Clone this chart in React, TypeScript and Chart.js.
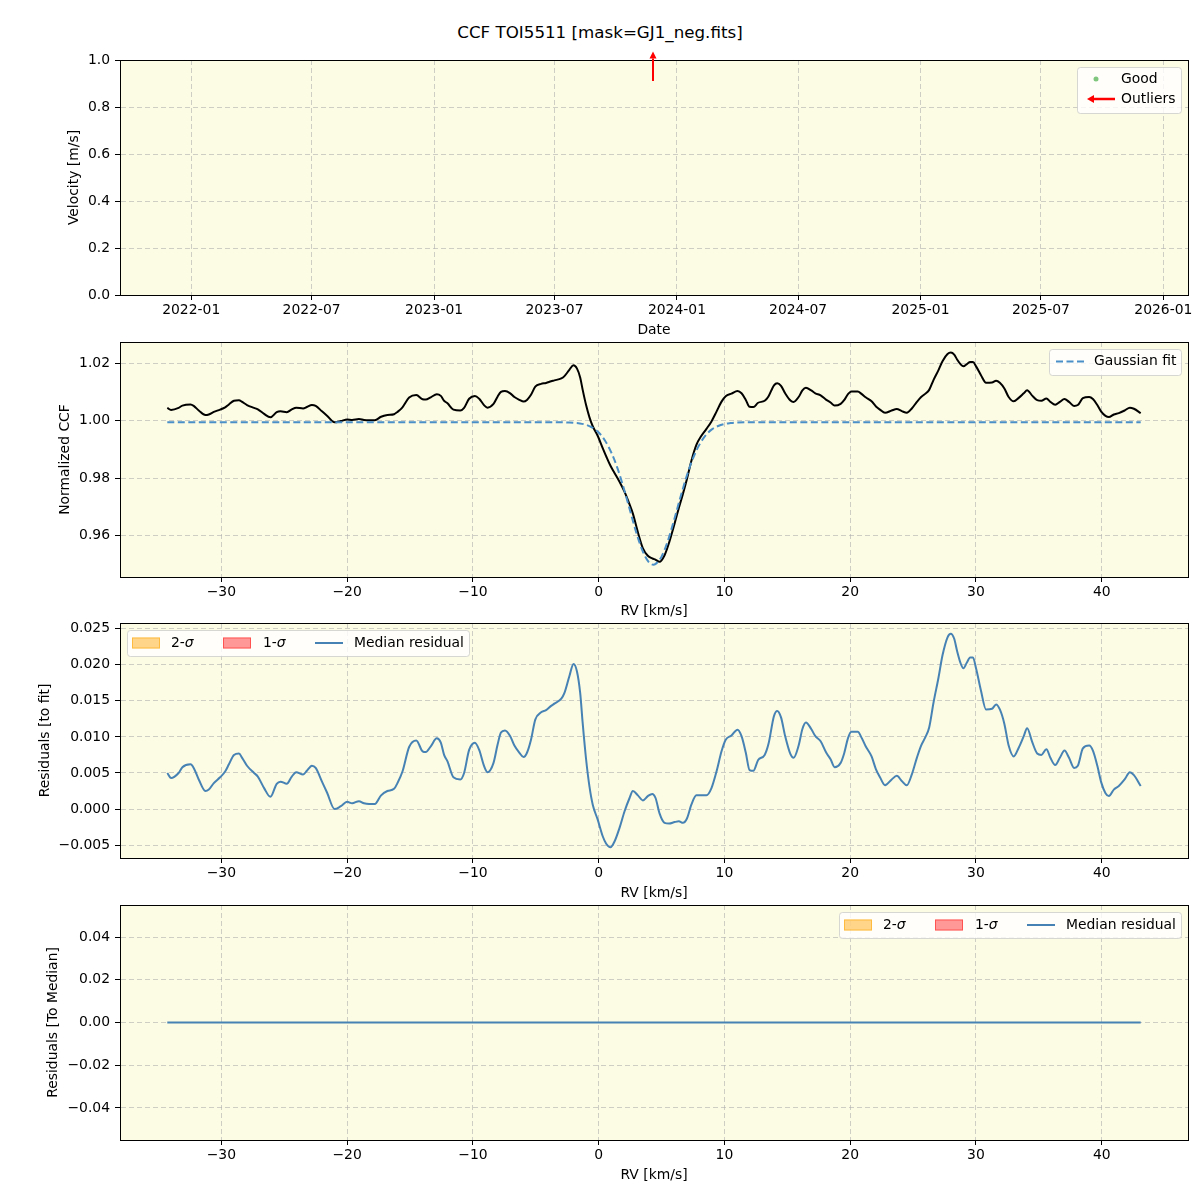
import React, { useEffect, useRef } from 'react';
import { Chart, registerables } from 'chart.js';

Chart.register(...registerables);

// ---------------- data ----------------
const RV = [
  -34.3, -34.0, -33.4, -33.1, -32.45, -32.2, -31.8, -31.27, -31.0, -30.6,
  -30.1, -29.7, -29.4, -29.0, -28.6, -28.35, -27.96, -27.4, -27.1, -26.6,
  -26.1, -25.6, -25.3, -24.8, -24.4, -24.05, -23.5, -23.2, -22.8, -22.5,
  -22.0, -21.6, -21.0, -20.5, -20.0, -19.6, -19.06, -18.66, -18.26, -17.8,
  -17.3, -16.8, -16.27, -16.0, -15.6, -15.07, -14.5, -14.0, -13.75, -13.35,
  -12.87, -12.55, -12.29, -12.02, -11.55, -11.0, -10.7, -10.3, -9.84, -9.5,
  -9.1, -8.84, -8.36, -8.04, -7.77, -7.45, -7.03, -6.7, -6.3, -5.97,
  -5.7, -5.38, -5.04, -4.58, -4.18, -3.78, -3.52, -2.97, -2.72, -2.33,
  -2.0, -1.73, -1.47, -1.27, -1.0, -0.73, -0.47, -0.07, 0.33, 0.6,
  0.94, 1.26, 1.66, 2.06, 2.45, 2.72, 3.12, 3.51, 3.91, 4.26,
  4.53, 4.84, 5.24, 5.6, 6.04, 6.38, 6.7, 7.02, 7.37, 7.77,
  8.17, 8.57, 8.97, 9.37, 9.77, 10.1, 10.56, 11.04, 11.36, 11.7,
  12.0, 12.3, 12.68, 13.2, 13.5, 13.94, 14.2, 14.5, 14.83, 15.25,
  15.5, 15.9, 16.2, 16.48, 16.9, 17.23, 17.65, 18.1, 18.44, 18.76,
  19.24, 19.5, 19.84, 20.1, 20.6, 20.9, 21.23, 21.7, 22.05, 22.37,
  22.77, 23.3, 23.7, 24.1, 24.5, 24.9, 25.3, 25.64, 25.96, 26.28,
  26.63, 27.02, 27.34, 27.74, 28.0, 28.27, 28.5, 28.8, 29.0, 29.28,
  29.54, 29.76, 30.02, 30.4, 30.8, 31.28, 31.6, 31.9, 32.26, 32.6,
  33.0, 33.4, 33.8, 34.07, 34.47, 34.87, 35.2, 35.6, 35.92, 36.3,
  36.67, 37.04, 37.4, 37.8, 38.1, 38.5, 39.0, 39.3, 39.65, 39.96,
  40.3, 40.57, 40.96, 41.36, 41.82, 42.24, 42.56, 43.1,
];

const CCF = [
  1.0045, 1.0038, 1.0045, 1.0053, 1.0057, 1.0052, 1.0036, 1.0020, 1.0022, 1.0031,
  1.0039, 1.0047, 1.0057, 1.0070, 1.0072, 1.0066, 1.0055, 1.0045, 1.0040, 1.0024,
  1.0012, 1.0030, 1.0033, 1.0030, 1.0040, 1.0046, 1.0043, 1.0048, 1.0055, 1.0052,
  1.0033, 1.0018, 0.9995, 0.9999, 1.0005, 1.0003, 1.0006, 1.0003, 1.0002, 1.0002,
  1.0014, 1.0020, 1.0023, 1.0031, 1.0047, 1.0081, 1.0090, 1.0075, 1.0074, 1.0082,
  1.0093, 1.0087, 1.0070, 1.0061, 1.0039, 1.0036, 1.0045, 1.0077, 1.0087, 1.0077,
  1.0054, 1.0046, 1.0059, 1.0084, 1.0101, 1.0104, 1.0096, 1.0083, 1.0073, 1.0067,
  1.0073, 1.0091, 1.0119, 1.0129, 1.0132, 1.0138, 1.0141, 1.0148, 1.0156, 1.0178,
  1.0194, 1.0183, 1.0151, 1.0108, 1.0055, 1.0012, 0.9981, 0.9947, 0.9904, 0.9876,
  0.9843, 0.9818, 0.9787, 0.9752, 0.9709, 0.9676, 0.9611, 0.9556, 0.9529, 0.9520,
  0.9515, 0.9508, 0.9531, 0.9575, 0.9642, 0.9697, 0.9745, 0.9797, 0.9860, 0.9916,
  0.9948, 0.9972, 0.9998, 1.0032, 1.0067, 1.0086, 1.0095, 1.0104, 1.0096, 1.0073,
  1.0049, 1.0048, 1.0063, 1.0070, 1.0085, 1.0124, 1.0131, 1.0122, 1.0096, 1.0071,
  1.0066, 1.0083, 1.0106, 1.0115, 1.0106, 1.0096, 1.0089, 1.0073, 1.0064, 1.0053,
  1.0059, 1.0071, 1.0094, 1.0102, 1.0102, 1.0094, 1.0082, 1.0068, 1.0050, 1.0039,
  1.0028, 1.0036, 1.0041, 1.0034, 1.0028, 1.0043, 1.0066, 1.0083, 1.0094, 1.0108,
  1.0143, 1.0177, 1.0208, 1.0233, 1.0238, 1.0231, 1.0214, 1.0196, 1.0190, 1.0198,
  1.0205, 1.0205, 1.0189, 1.0159, 1.0133, 1.0134, 1.0140, 1.0133, 1.0113, 1.0083,
  1.0068, 1.0080, 1.0096, 1.0107, 1.0088, 1.0072, 1.0070, 1.0078, 1.0066, 1.0056,
  1.0066, 1.0076, 1.0066, 1.0052, 1.0055, 1.0079, 1.0083, 1.0076, 1.0055, 1.0032,
  1.0017, 1.0013, 1.0022, 1.0027, 1.0036, 1.0046, 1.0042, 1.0027,
];

const RESID = [
  0.0050, 0.0043, 0.0050, 0.0058, 0.0062, 0.0057, 0.0041, 0.0025, 0.0027, 0.0036,
  0.0044, 0.0052, 0.0062, 0.0075, 0.0077, 0.0071, 0.0060, 0.0050, 0.0045, 0.0029,
  0.0017, 0.0035, 0.0038, 0.0035, 0.0045, 0.0051, 0.0048, 0.0053, 0.0060, 0.0057,
  0.0038, 0.0023, 0.0000, 0.0004, 0.0010, 0.0008, 0.0011, 0.0008, 0.0007, 0.0007,
  0.0019, 0.0025, 0.0028, 0.0036, 0.0052, 0.0086, 0.0095, 0.0080, 0.0079, 0.0087,
  0.0098, 0.0092, 0.0075, 0.0066, 0.0044, 0.0041, 0.0050, 0.0082, 0.0092, 0.0082,
  0.0059, 0.0051, 0.0064, 0.0089, 0.0106, 0.0109, 0.0101, 0.0088, 0.0078, 0.0072,
  0.0078, 0.0096, 0.0124, 0.0134, 0.0137, 0.0143, 0.0146, 0.0153, 0.0161, 0.0184,
  0.0201, 0.0191, 0.0161, 0.0119, 0.0069, 0.0031, 0.0006, -0.0015, -0.0038, -0.0048,
  -0.0053, -0.0045, -0.0026, -0.0003, 0.0015, 0.0025, 0.0019, 0.0012, 0.0018, 0.0021,
  0.0015, -0.0006, -0.0019, -0.0020, -0.0018, -0.0017, -0.0019, -0.0013, 0.0006, 0.0019,
  0.0019, 0.0019, 0.0029, 0.0052, 0.0080, 0.0096, 0.0102, 0.0110, 0.0101, 0.0078,
  0.0054, 0.0053, 0.0068, 0.0075, 0.0090, 0.0129, 0.0136, 0.0127, 0.0101, 0.0076,
  0.0071, 0.0088, 0.0111, 0.0120, 0.0111, 0.0101, 0.0094, 0.0078, 0.0069, 0.0058,
  0.0064, 0.0076, 0.0099, 0.0107, 0.0107, 0.0099, 0.0087, 0.0073, 0.0055, 0.0044,
  0.0033, 0.0041, 0.0046, 0.0039, 0.0033, 0.0048, 0.0071, 0.0088, 0.0099, 0.0113,
  0.0148, 0.0182, 0.0213, 0.0238, 0.0243, 0.0236, 0.0219, 0.0201, 0.0195, 0.0203,
  0.0210, 0.0210, 0.0194, 0.0164, 0.0138, 0.0139, 0.0145, 0.0138, 0.0118, 0.0088,
  0.0073, 0.0085, 0.0101, 0.0112, 0.0093, 0.0077, 0.0075, 0.0083, 0.0071, 0.0061,
  0.0071, 0.0081, 0.0071, 0.0057, 0.0060, 0.0084, 0.0088, 0.0081, 0.0060, 0.0037,
  0.0022, 0.0018, 0.0027, 0.0032, 0.0041, 0.0051, 0.0047, 0.0032,
];

const FIT_RV = [
  -34.3, -3, -2.5, -2, -1.5, -1, -0.5, 0, 0.5, 1, 1.5, 2, 2.5, 3, 3.5, 4, 4.35,
  4.5, 5, 5.5, 6, 6.5, 7, 7.5, 8, 8.5, 9, 9.5, 10, 10.5, 11, 12, 43.1,
];
const FIT = [
  0.9995, 0.9995, 0.9994, 0.9993, 0.9991, 0.9986, 0.9976, 0.9959, 0.9931, 0.9890, 0.9834,
  0.9764, 0.9686, 0.9609, 0.9545, 0.9506, 0.9498, 0.9500, 0.9526, 0.9581, 0.9654, 0.9733,
  0.9807, 0.9869, 0.9916, 0.9949, 0.9970, 0.9982, 0.9989, 0.9992, 0.9994, 0.9995, 0.9995,
];

const MEDIAN_RV = [-34.3, 43.1];
const MEDIAN_RESID = [0, 0];

const GOOD_DATES: string[] = [];
const GOOD_VELOCITY: number[] = [];
const OUTLIER_DATES = ['2023-11-26'];

const DATE_TICKS = [
  '2022-01-01', '2022-07-01', '2023-01-01', '2023-07-01', '2024-01-01',
  '2024-07-01', '2025-01-01', '2025-07-01', '2026-01-01',
];
const DATE_RANGE = ['2021-09-16', '2026-02-07'];
const VEL_TICKS = [0, 0.2, 0.4, 0.6, 0.8, 1.0];
const VEL_RANGE = [0, 1];

const RV_TICKS = [-30, -20, -10, 0, 10, 20, 30, 40];
const RV_RANGE = [-38.06, 46.86];
const CCF_TICKS = [0.96, 0.98, 1.0, 1.02];
const CCF_RANGE = [0.9455, 1.0275];
const RES_TICKS = [-0.005, 0, 0.005, 0.01, 0.015, 0.02, 0.025];
const RES_RANGE = [-0.00678, 0.02578];
const MED_TICKS = [-0.04, -0.02, 0, 0.02, 0.04];
const MED_RANGE = [-0.055, 0.055];

// ---------------- style ----------------
const FONT_FAMILY = "'DejaVu Sans', sans-serif";
const FS = 13.9;
const BG = '#fcfbe3';
const GRID = 'rgba(176,176,176,0.6)';
const MINUS = '\u2212';
const STEEL = '#4682b4';
const FIT_BLUE = '#4a8fc7';

const fmtNum = (v: number, d: number) => v.toFixed(d).replace('-', MINUS);
const fmtDate = (v: number) => {
  const d = new Date(v);
  return `${d.getUTCFullYear()}-${String(d.getUTCMonth() + 1).padStart(2, '0')}`;
};

function roundRectPath(ctx: CanvasRenderingContext2D, x: number, y: number, w: number, h: number, r: number) {
  ctx.beginPath();
  ctx.moveTo(x + r, y);
  ctx.lineTo(x + w - r, y);
  ctx.arcTo(x + w, y, x + w, y + r, r);
  ctx.lineTo(x + w, y + h - r);
  ctx.arcTo(x + w, y + h, x + w - r, y + h, r);
  ctx.lineTo(x + r, y + h);
  ctx.arcTo(x, y + h, x, y + h - r, r);
  ctx.lineTo(x, y + r);
  ctx.arcTo(x, y, x + r, y, r);
  ctx.closePath();
}

function legendBox(ctx: CanvasRenderingContext2D, x: number, y: number, w: number, h: number) {
  ctx.save();
  roundRectPath(ctx, Math.round(x) + 0.5, Math.round(y) + 0.5, w, h, 3);
  ctx.fillStyle = 'rgba(255,255,255,0.8)';
  ctx.fill();
  ctx.strokeStyle = 'rgba(204,204,204,0.8)';
  ctx.lineWidth = 1;
  ctx.stroke();
  ctx.restore();
}

function text(ctx: CanvasRenderingContext2D, s: string, x: number, y: number, italic = false) {
  ctx.save();
  ctx.font = `${italic ? 'italic ' : ''}${FS}px ${FONT_FAMILY}`;
  ctx.fillStyle = '#000';
  ctx.textBaseline = 'middle';
  ctx.textAlign = 'left';
  ctx.fillText(s, x, y);
  const w = ctx.measureText(s).width;
  ctx.restore();
  return w;
}

function sigmaLabel(ctx: CanvasRenderingContext2D, prefix: string, x: number, y: number) {
  const w = text(ctx, prefix, x, y);
  text(ctx, '\u03c3', x + w, y, true);
}

function arrow(ctx: CanvasRenderingContext2D, x1: number, y1: number, x2: number, y2: number, color: string, lw: number, hl: number, hw: number) {
  const a = Math.atan2(y2 - y1, x2 - x1);
  const bx = x2 - hl * Math.cos(a);
  const by = y2 - hl * Math.sin(a);
  ctx.save();
  ctx.strokeStyle = color;
  ctx.lineWidth = lw;
  ctx.beginPath();
  ctx.moveTo(x1, y1);
  ctx.lineTo(bx, by);
  ctx.stroke();
  ctx.fillStyle = color;
  ctx.beginPath();
  ctx.moveTo(x2, y2);
  ctx.lineTo(bx + hw * Math.sin(a), by - hw * Math.cos(a));
  ctx.lineTo(bx - hw * Math.sin(a), by + hw * Math.cos(a));
  ctx.closePath();
  ctx.fill();
  ctx.restore();
}

function bandLegend(ctx: CanvasRenderingContext2D, bx: number, by: number) {
  legendBox(ctx, bx, by, 342, 26);
  const cy = by + 13;
  ctx.save();
  ctx.fillStyle = 'rgba(255,165,0,0.45)';
  ctx.fillRect(bx + 5, cy - 5.5, 28, 11);
  ctx.strokeStyle = 'rgba(255,165,0,0.55)';
  ctx.lineWidth = 1;
  ctx.strokeRect(bx + 5.5, cy - 5, 27, 10);
  ctx.fillStyle = 'rgba(255,0,0,0.4)';
  ctx.fillRect(bx + 96, cy - 5.5, 28, 11);
  ctx.strokeStyle = 'rgba(255,0,0,0.45)';
  ctx.strokeRect(bx + 96.5, cy - 5, 27, 10);
  ctx.strokeStyle = STEEL;
  ctx.lineWidth = 2;
  ctx.beginPath();
  ctx.moveTo(bx + 188, cy);
  ctx.lineTo(bx + 216, cy);
  ctx.stroke();
  ctx.restore();
  sigmaLabel(ctx, '2-', bx + 44, cy);
  sigmaLabel(ctx, '1-', bx + 136, cy);
  text(ctx, 'Median residual', bx + 227, cy);
}

const bgPlugin = {
  id: 'bgPanel',
  beforeDraw(chart: any) {
    const { ctx, chartArea: a } = chart;
    ctx.save();
    ctx.fillStyle = BG;
    ctx.fillRect(a.left, a.top, a.right - a.left, a.bottom - a.top);
    ctx.restore();
  },
};

const framePlugin = {
  id: 'framePanel',
  afterDraw(chart: any) {
    const { ctx, chartArea: a } = chart;
    ctx.save();
    ctx.strokeStyle = '#000';
    ctx.lineWidth = 1;
    ctx.strokeRect(a.left + 0.5, a.top + 0.5, a.right - a.left, a.bottom - a.top);
    ctx.restore();
  },
};

function makeConfig(s: any): any {
  const font = { family: FONT_FAMILY, size: FS };
  const grid = { color: GRID, lineWidth: 1, drawTicks: true, tickLength: 5, tickColor: '#000', tickWidth: 1, tickBorderDash: [], borderDash: [5, 3] };
  const border = { display: true, color: 'rgba(0,0,0,0)', width: 1, dash: [5, 3] };
  return {
    type: 'line',
    data: { datasets: s.datasets },
    options: {
      responsive: false,
      maintainAspectRatio: false,
      animation: false,
      events: [],
      layout: { padding: { left: 0, right: 12, top: s.padTop, bottom: 0 } },
      plugins: { legend: { display: false }, tooltip: { enabled: false }, title: { display: false } },
      scales: {
        x: {
          type: 'linear',
          position: 'bottom',
          bounds: 'data',
          min: s.xMin,
          max: s.xMax,
          afterBuildTicks: (sc: any) => { sc.ticks = s.xTicks.map((v: number) => ({ value: v })); },
          afterFit: (sc: any) => { sc.height = s.xh; sc.paddingLeft = 0; sc.paddingRight = 0; },
          ticks: { autoSkip: false, maxRotation: 0, minRotation: 0, padding: 2, color: '#000', font, callback: (v: any) => s.xFmt(v) },
          grid,
          border,
          title: { display: true, text: s.xTitle, color: '#000', font, padding: { top: 0, bottom: s.xTitlePb } },
        },
        y: {
          type: 'linear',
          position: 'left',
          bounds: 'data',
          min: s.yMin,
          max: s.yMax,
          afterBuildTicks: (sc: any) => { sc.ticks = s.yTicks.map((v: number) => ({ value: v })); },
          afterFit: (sc: any) => { sc.width = 120; sc.paddingTop = 0; sc.paddingBottom = 0; },
          ticks: { autoSkip: false, padding: 5, color: '#000', font, callback: (v: any) => s.yFmt(v) },
          grid,
          border,
          title: { display: true, text: s.yTitle, color: '#000', font, padding: { top: s.yTitlePt, bottom: 0 } },
        },
      },
    },
    plugins: [bgPlugin, framePlugin, ...(s.plugins || [])],
  };
}

const pts = (xs: number[], ys: number[]) => xs.map((x, i) => ({ x, y: ys[i] }));

function config1() {
  const outlierPlugin = {
    id: 'outliers',
    afterDraw(chart: any) {
      const { ctx, chartArea: a, scales } = chart;
      OUTLIER_DATES.forEach((d) => {
        const px = Math.round(scales.x.getPixelForValue(Date.parse(d)));
        arrow(ctx, px, a.top + 21, px, a.top - 8.5, '#ff0000', 2, 7, 3.5);
      });
      const bx = a.right - 7 - 104;
      const by = a.top + 7;
      legendBox(ctx, bx, by, 104, 46);
      ctx.save();
      ctx.fillStyle = 'rgba(44,160,44,0.6)';
      ctx.beginPath();
      ctx.arc(bx + 19, by + 12, 2.5, 0, Math.PI * 2);
      ctx.fill();
      ctx.restore();
      text(ctx, 'Good', bx + 44, by + 12);
      arrow(ctx, bx + 38, by + 32, bx + 10, by + 32, '#ff0000', 2.5, 7, 4);
      text(ctx, 'Outliers', bx + 44, by + 32);
    },
  };
  return makeConfig({
    padTop: 60,
    xh: 45,
    xMin: Date.parse(DATE_RANGE[0]),
    xMax: Date.parse(DATE_RANGE[1]),
    xTicks: DATE_TICKS.map((d) => Date.parse(d)),
    xFmt: fmtDate,
    xTitle: 'Date',
    xTitlePb: 1.6,
    yMin: VEL_RANGE[0],
    yMax: VEL_RANGE[1],
    yTicks: VEL_TICKS,
    yFmt: (v: number) => v.toFixed(1),
    yTitle: 'Velocity [m/s]',
    yTitlePt: 66,
    datasets: [
      {
        label: 'Good',
        data: GOOD_DATES.map((d, i) => ({ x: Date.parse(d), y: GOOD_VELOCITY[i] })),
        showLine: false,
        pointRadius: 2.5,
        pointBackgroundColor: 'rgba(44,160,44,0.6)',
        pointBorderWidth: 0,
      },
    ],
    plugins: [outlierPlugin],
  });
}

function config2() {
  const legend = {
    id: 'fitLegend',
    afterDraw(chart: any) {
      const { ctx, chartArea: a } = chart;
      const bx = a.right - 7 - 132;
      const by = a.top + 7;
      legendBox(ctx, bx, by, 132, 26);
      const cy = by + 12.5;
      ctx.save();
      ctx.strokeStyle = FIT_BLUE;
      ctx.lineWidth = 2;
      ctx.setLineDash([7, 3.5]);
      ctx.beginPath();
      ctx.moveTo(bx + 7, cy);
      ctx.lineTo(bx + 35, cy);
      ctx.stroke();
      ctx.restore();
      text(ctx, 'Gaussian fit', bx + 45, cy);
    },
  };
  return makeConfig({
    padTop: 2,
    xh: 43,
    xMin: RV_RANGE[0],
    xMax: RV_RANGE[1],
    xTicks: RV_TICKS,
    xFmt: (v: number) => fmtNum(v, 0),
    xTitle: 'RV [km/s]',
    xTitlePb: 0,
    yMin: CCF_RANGE[0],
    yMax: CCF_RANGE[1],
    yTicks: CCF_TICKS,
    yFmt: (v: number) => fmtNum(v, 2),
    yTitle: 'Normalized CCF',
    yTitlePt: 57,
    datasets: [
      {
        label: 'Gaussian fit',
        data: pts(FIT_RV, FIT),
        borderColor: FIT_BLUE,
        borderWidth: 2,
        borderDash: [7, 3.5],
        pointRadius: 0,
        cubicInterpolationMode: 'monotone',
        fill: false,
      },
      {
        label: 'CCF',
        data: pts(RV, CCF),
        borderColor: '#000',
        borderWidth: 2,
        pointRadius: 0,
        cubicInterpolationMode: 'monotone',
        fill: false,
      },
    ],
    plugins: [legend],
  });
}

function config3() {
  const legend = {
    id: 'resLegend',
    afterDraw(chart: any) {
      const { ctx, chartArea: a } = chart;
      bandLegend(ctx, a.left + 7, a.top + 7);
    },
  };
  return makeConfig({
    padTop: 3,
    xh: 44,
    xMin: RV_RANGE[0],
    xMax: RV_RANGE[1],
    xTicks: RV_TICKS,
    xFmt: (v: number) => fmtNum(v, 0),
    xTitle: 'RV [km/s]',
    xTitlePb: 0.6,
    yMin: RES_RANGE[0],
    yMax: RES_RANGE[1],
    yTicks: RES_TICKS,
    yFmt: (v: number) => fmtNum(v, 3),
    yTitle: 'Residuals [to fit]',
    yTitlePt: 36.6,
    datasets: [
      {
        label: 'Median residual',
        data: pts(RV, RESID),
        borderColor: STEEL,
        borderWidth: 2,
        pointRadius: 0,
        cubicInterpolationMode: 'monotone',
        fill: false,
      },
    ],
    plugins: [legend],
  });
}

function config4() {
  const legend = {
    id: 'medLegend',
    afterDraw(chart: any) {
      const { ctx, chartArea: a } = chart;
      bandLegend(ctx, a.right - 7 - 342, a.top + 7);
    },
  };
  return makeConfig({
    padTop: 3,
    xh: 60,
    xMin: RV_RANGE[0],
    xMax: RV_RANGE[1],
    xTicks: RV_TICKS,
    xFmt: (v: number) => fmtNum(v, 0),
    xTitle: 'RV [km/s]',
    xTitlePb: 16.6,
    yMin: MED_RANGE[0],
    yMax: MED_RANGE[1],
    yTicks: MED_TICKS,
    yFmt: (v: number) => fmtNum(v, 2),
    yTitle: 'Residuals [To Median]',
    yTitlePt: 45.5,
    datasets: [
      {
        label: 'Median residual',
        data: pts(MEDIAN_RV, MEDIAN_RESID),
        borderColor: STEEL,
        borderWidth: 2,
        pointRadius: 0,
        fill: false,
      },
    ],
    plugins: [legend],
  });
}

const PANELS = [
  { top: 0, height: 340 },
  { top: 340, height: 280 },
  { top: 620, height: 282 },
  { top: 902, height: 298 },
];

export default function App() {
  const r1 = useRef<HTMLCanvasElement>(null);
  const r2 = useRef<HTMLCanvasElement>(null);
  const r3 = useRef<HTMLCanvasElement>(null);
  const r4 = useRef<HTMLCanvasElement>(null);

  useEffect(() => {
    const charts = [
      new Chart(r1.current as HTMLCanvasElement, config1()),
      new Chart(r2.current as HTMLCanvasElement, config2()),
      new Chart(r3.current as HTMLCanvasElement, config3()),
      new Chart(r4.current as HTMLCanvasElement, config4()),
    ];
    return () => charts.forEach((c) => c.destroy());
  }, []);

  const refs = [r1, r2, r3, r4];
  return (
    <div style={{ position: 'absolute', left: 0, top: 0, width: 1200, height: 1200, background: '#fff', overflow: 'hidden' }}>
      <div
        style={{
          position: 'absolute',
          left: 0,
          top: 22,
          width: 1200,
          height: 20,
          lineHeight: '20px',
          textAlign: 'center',
          fontFamily: FONT_FAMILY,
          fontSize: 16.7,
          color: '#000',
        }}
      >
        CCF TOI5511 [mask=GJ1_neg.fits]
      </div>
      {PANELS.map((p, i) => (
        <canvas
          key={i}
          ref={refs[i]}
          width={1200}
          height={p.height}
          style={{ position: 'absolute', left: 0, top: p.top, width: 1200, height: p.height }}
        />
      ))}
    </div>
  );
}
